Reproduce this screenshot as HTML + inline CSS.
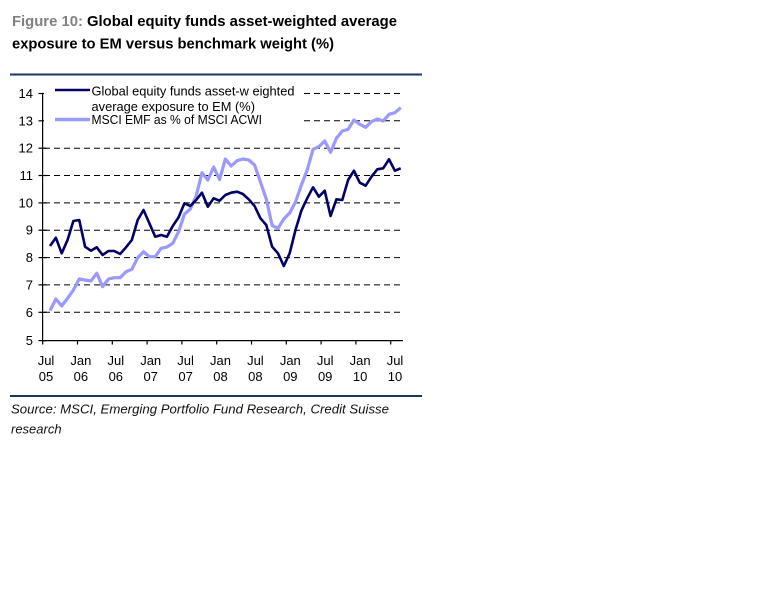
<!DOCTYPE html>
<html>
<head>
<meta charset="utf-8">
<style>
html,body{margin:0;padding:0;background:#fff;}
svg{display:block;}
text{font-family:"Liberation Sans",Arial,sans-serif;}
</style>
</head>
<body>
<svg width="768" height="614" viewBox="0 0 768 614" xmlns="http://www.w3.org/2000/svg">
<rect width="768" height="614" fill="#fff"/>
<!-- Title -->
<text x="12" y="26" font-size="15" font-weight="bold" fill="#000" textLength="385" lengthAdjust="spacingAndGlyphs"><tspan fill="#808080">Figure 10:</tspan> Global equity funds asset-weighted average</text>
<text x="12" y="48.5" font-size="15" font-weight="bold" fill="#000" textLength="322" lengthAdjust="spacingAndGlyphs">exposure to EM versus benchmark weight (%)</text>
<!-- top rule -->
<rect x="10" y="73.5" width="412" height="2" fill="#17375e"/>

<!-- gridlines -->
<g stroke="#000" stroke-width="1" stroke-dasharray="6 4" fill="none">
<line x1="44" y1="93.5" x2="401" y2="93.5"/>
<line x1="44" y1="120.8" x2="401" y2="120.8"/>
<line x1="44" y1="148.2" x2="401" y2="148.2"/>
<line x1="44" y1="175.5" x2="401" y2="175.5"/>
<line x1="44" y1="202.9" x2="401" y2="202.9"/>
<line x1="44" y1="230.2" x2="401" y2="230.2"/>
<line x1="44" y1="257.6" x2="401" y2="257.6"/>
<line x1="44" y1="284.9" x2="401" y2="284.9"/>
<line x1="44" y1="312.3" x2="401" y2="312.3"/>
</g>

<!-- axes -->
<g stroke="#000" stroke-width="1.2" fill="none">
<line x1="42.6" y1="93.5" x2="42.6" y2="340.6"/>
<line x1="42" y1="340.6" x2="403" y2="340.6"/>
<!-- y ticks -->
<line x1="38.5" y1="93.5" x2="46.5" y2="93.5"/>
<line x1="38.5" y1="120.8" x2="46.5" y2="120.8"/>
<line x1="38.5" y1="148.2" x2="46.5" y2="148.2"/>
<line x1="38.5" y1="175.5" x2="46.5" y2="175.5"/>
<line x1="38.5" y1="202.9" x2="46.5" y2="202.9"/>
<line x1="38.5" y1="230.2" x2="46.5" y2="230.2"/>
<line x1="38.5" y1="257.6" x2="46.5" y2="257.6"/>
<line x1="38.5" y1="284.9" x2="46.5" y2="284.9"/>
<line x1="38.5" y1="312.3" x2="46.5" y2="312.3"/>
<line x1="38.5" y1="340.6" x2="46.5" y2="340.6"/>
<!-- x ticks -->
<line x1="42.7" y1="340.6" x2="42.7" y2="344.5"/>
<line x1="77.5" y1="340.6" x2="77.5" y2="344.5"/>
<line x1="112.3" y1="340.6" x2="112.3" y2="344.5"/>
<line x1="147.1" y1="340.6" x2="147.1" y2="344.5"/>
<line x1="181.9" y1="340.6" x2="181.9" y2="344.5"/>
<line x1="216.7" y1="340.6" x2="216.7" y2="344.5"/>
<line x1="251.5" y1="340.6" x2="251.5" y2="344.5"/>
<line x1="286.3" y1="340.6" x2="286.3" y2="344.5"/>
<line x1="321.1" y1="340.6" x2="321.1" y2="344.5"/>
<line x1="355.9" y1="340.6" x2="355.9" y2="344.5"/>
<line x1="390.7" y1="340.6" x2="390.7" y2="344.5"/>
</g>

<!-- y labels -->
<g font-size="13" fill="#000" text-anchor="end">
<text x="33" y="98">14</text>
<text x="33" y="125.3">13</text>
<text x="33" y="152.7">12</text>
<text x="33" y="180">11</text>
<text x="33" y="207.4">10</text>
<text x="33" y="234.7">9</text>
<text x="33" y="262.1">8</text>
<text x="33" y="289.4">7</text>
<text x="33" y="316.8">6</text>
<text x="33" y="345.1">5</text>
</g>

<!-- x labels -->
<g font-size="13" fill="#000" text-anchor="middle">
<text x="46" y="365">Jul</text><text x="46" y="381">05</text>
<text x="80.9" y="365">Jan</text><text x="80.9" y="381">06</text>
<text x="115.8" y="365">Jul</text><text x="115.8" y="381">06</text>
<text x="150.7" y="365">Jan</text><text x="150.7" y="381">07</text>
<text x="185.6" y="365">Jul</text><text x="185.6" y="381">07</text>
<text x="220.5" y="365">Jan</text><text x="220.5" y="381">08</text>
<text x="255.4" y="365">Jul</text><text x="255.4" y="381">08</text>
<text x="290.3" y="365">Jan</text><text x="290.3" y="381">09</text>
<text x="325.2" y="365">Jul</text><text x="325.2" y="381">09</text>
<text x="360.1" y="365">Jan</text><text x="360.1" y="381">10</text>
<text x="395" y="365">Jul</text><text x="395" y="381">10</text>
</g>

<!-- light series: MSCI EMF as % of MSCI ACWI -->
<polyline fill="none" stroke="#9999ff" stroke-width="3.2" stroke-linejoin="round" points="50,310.7 55.85,299 61.69,306 67.54,298.3 73.38,290 79.23,279 85.07,280 90.92,281 96.76,273.3 102.61,286.7 108.45,279 114.3,277.7 120.14,277.7 125.99,271.7 131.83,269.3 137.68,257.7 143.52,251.7 149.37,256.7 155.21,256.7 161.06,248.3 166.9,247 172.75,243.3 178.59,231.7 184.44,214 190.28,209 196.13,196 201.97,172.7 207.82,180 213.66,167 219.51,179.5 225.35,159 231.2,166 237.04,160.7 242.89,159 248.73,160 254.58,165 260.42,182 266.27,199 272.11,225.5 277.96,228.3 283.8,219 289.65,213 295.49,202 301.34,185 307.18,170 313.03,149.3 318.87,146.7 324.72,141 330.56,152.3 336.41,138.3 342.25,131 348.1,129.3 353.94,120 359.79,124.3 365.63,127.3 371.48,121.7 377.32,119 383.17,121 389.01,114.3 394.86,112.7 400.7,107.7"/>

<!-- dark series: Global equity funds -->
<polyline fill="none" stroke="#000066" stroke-width="2.6" stroke-linejoin="round" points="50,246 55.85,237.7 61.69,253.3 67.54,240 73.38,221 79.23,220 85.07,246.7 90.92,250.7 96.76,247.3 102.61,255 108.45,251 114.3,251 120.14,254 125.99,247.3 131.83,240 137.68,220 143.52,210 149.37,223.3 155.21,236.7 161.06,235 166.9,236.7 172.75,226 178.59,217.3 184.44,203.3 190.28,206 196.13,200 201.97,192.7 207.82,206.7 213.66,198.3 219.51,200.7 225.35,195 231.2,192.7 237.04,191.7 242.89,194 248.73,199.3 254.58,206 260.42,218.3 266.27,225 272.11,246.7 277.96,253.3 283.8,266 289.65,253.3 295.49,230 301.34,210.7 307.18,198.3 313.03,187.3 318.87,196.7 324.72,190.7 330.56,216 336.41,199.3 342.25,200 348.1,180 353.94,170.7 359.79,182.7 365.63,185.7 371.48,176.7 377.32,169.3 383.17,168.3 389.01,159.3 394.86,170.7 400.7,168.3"/>

<!-- legend -->
<rect x="44" y="84" width="256" height="44" fill="#fff"/>
<line x1="55" y1="90" x2="90" y2="90" stroke="#000066" stroke-width="2.6"/>
<line x1="55" y1="119.5" x2="90" y2="119.5" stroke="#9999ff" stroke-width="3.5"/>
<g font-size="13" fill="#000">
<text x="91.5" y="95.5" textLength="203" lengthAdjust="spacingAndGlyphs">Global equity funds asset-w eighted</text>
<text x="91.5" y="111" textLength="163.5" lengthAdjust="spacingAndGlyphs">average exposure to EM (%)</text>
<text x="91.5" y="124" textLength="170.5" lengthAdjust="spacingAndGlyphs">MSCI EMF as % of MSCI ACWI</text>
</g>

<!-- bottom rule -->
<rect x="10" y="395" width="412" height="2" fill="#17375e"/>
<!-- source -->
<text x="11" y="413.5" font-size="13" font-style="italic" fill="#111" textLength="378" lengthAdjust="spacingAndGlyphs">Source: MSCI, Emerging Portfolio Fund Research, Credit Suisse</text>
<text x="11" y="433.5" font-size="13" font-style="italic" fill="#111">research</text>
</svg>
</body>
</html>
